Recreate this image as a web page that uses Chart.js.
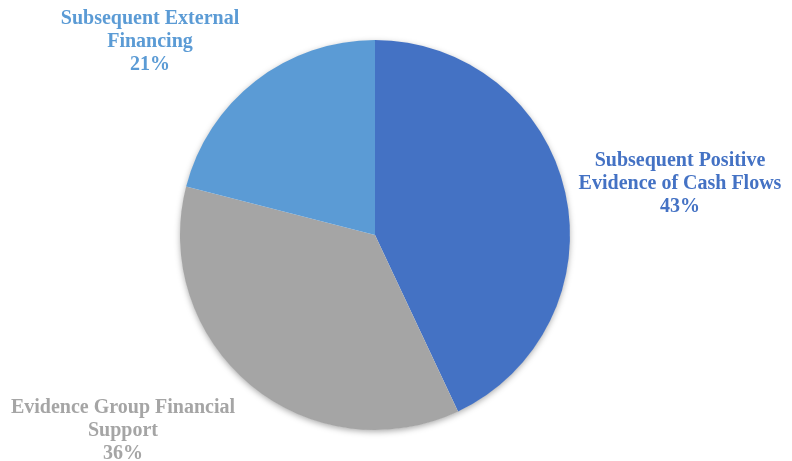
<!DOCTYPE html>
<html>
<head>
<meta charset="utf-8">
<script src="https://cdn.jsdelivr.net/npm/chart.js@4/dist/chart.umd.min.js"></script>
<style>
  html, body { margin: 0; padding: 0; background: #fff; }
  #wrap { width: 792px; height: 461px; }
</style>
</head>
<body>
<div id="wrap"><canvas id="myChart" width="792" height="461"></canvas></div>
<script>
    const categories = [
        ['Subsequent Positive', 'Evidence of Cash Flows'],
        ['Evidence Group Financial', 'Support'],
        ['Subsequent External', 'Financing']
    ]
    const shares = [43, 36, 21]
    const sliceColors = ['#4472C4', '#A5A5A5', '#5B9BD5']

    // where each label block sits, relative to the pie centre (px)
    const labelOffsets = [[305, -51], [-252, 196], [-225, -193]]

    // soft shadow under the whole pie
    const pieShadow = {
        id: 'pieShadow',
        beforeDatasetsDraw(chart) {
            const arc = chart.getDatasetMeta(0).data[0]
            if (!arc) return
            const ctx = chart.ctx
            ctx.save()
            ctx.shadowColor = 'rgba(0,0,0,0.35)'
            ctx.shadowBlur = 6
            ctx.shadowOffsetX = 0
            ctx.shadowOffsetY = 2
            ctx.fillStyle = '#fff'
            ctx.beginPath()
            ctx.arc(arc.x, arc.y, arc.outerRadius - 0.5, 0, Math.PI * 2)
            ctx.fill()
            ctx.restore()
        }
    }

    const sliceLabels = {
        id: 'sliceLabels',
        afterDatasetsDraw(chart) {
            const meta = chart.getDatasetMeta(0)
            const ctx = chart.ctx
            ctx.save()
            ctx.font = 'bold 20px "Liberation Serif", "Times New Roman", serif'
            ctx.textAlign = 'center'
            ctx.textBaseline = 'middle'
            meta.data.forEach((arc, i) => {
                const lines = [...categories[i], shares[i] + '%']
                const cx = arc.x + labelOffsets[i][0]
                const cy = arc.y + labelOffsets[i][1]
                const lh = 23
                ctx.fillStyle = sliceColors[i]
                lines.forEach((t, j) => {
                    ctx.fillText(t, cx, cy + (j - (lines.length - 1) / 2) * lh)
                })
            })
            ctx.restore()
        }
    }

    const ctx = document.getElementById('myChart').getContext('2d')
    const chart = new Chart(ctx, {
        type: 'pie',
        data: {
            labels: categories.map(c => c.join(' ')),
            datasets: [{
                data: shares,
                backgroundColor: sliceColors,
                borderWidth: 0
            }]
        },
        options: {
            responsive: false,
            animation: false,
            layout: { padding: { top: 40, bottom: 31, left: 180, right: 222 } },
            plugins: {
                legend: { display: false },
                tooltip: { enabled: false }
            }
        },
        plugins: [pieShadow, sliceLabels]
    })
</script>
</body>
</html>
